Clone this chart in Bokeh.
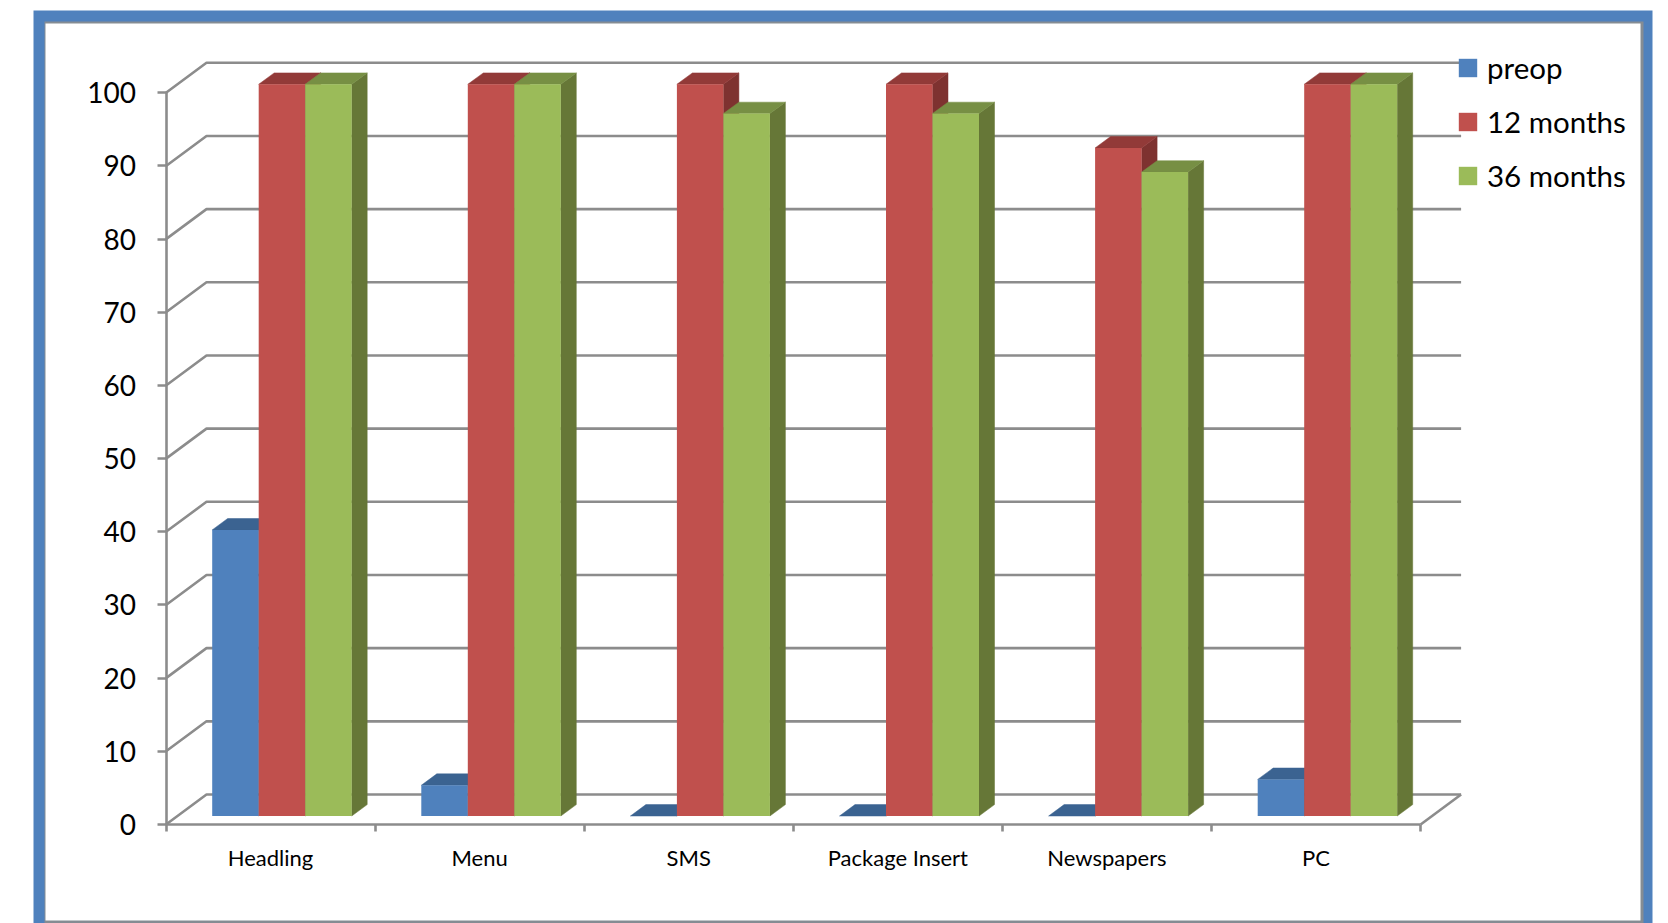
from bokeh.plotting import figure
from bokeh.models import Range1d, FixedTicker, BoxAnnotation, Legend, LegendItem, ColumnDataSource
from bokeh.embed import file_html
from bokeh.resources import INLINE

categories = ["Headling", "Menu", "SMS", "Package Insert", "Newspapers", "PC"]
preop = [39.1, 4.2, 0, 0, 0, 5.0]
months12 = [100, 100, 100, 100, 91.3, 100]
months36 = [100, 100, 96, 96, 88, 100]
series_names = ["preop", "12 months", "36 months"]
y_ticks = [0, 10, 20, 30, 40, 50, 60, 70, 80, 90, 100]

FRONT = ["#4F81BD", "#C0504D", "#9BBB59"]
TOP = ["#3B6391", "#923A38", "#778F44"]
SIDE = ["#345678", "#7E3230", "#667737"]
GRID = "#8C8C8C"

W, H = 1668, 923
X0, Y0 = 165.5, 824.0          # pixel of the axis origin
PX_X, PX_Y = 209.1, 7.317      # pixels per category / per value unit
to_x = lambda px: px / PX_X
to_y = lambda px: px / PX_Y

p = figure(width=W, height=H, output_backend="svg", toolbar_location=None,
           min_border=0, background_fill_color="white", border_fill_color="white",
           x_range=Range1d(-X0 / PX_X, (W - X0) / PX_X),
           y_range=Range1d((Y0 - H) / PX_Y, Y0 / PX_Y))
p.grid.visible = False
p.outline_line_color = None

# picture frame (canvas units)
def band(l, r, t, b, color):
    p.add_layout(BoxAnnotation(left=l, right=r, top=t, bottom=b,
                               left_units="canvas", right_units="canvas",
                               top_units="canvas", bottom_units="canvas",
                               fill_color=color, fill_alpha=1, line_color=None, level="underlay"))
band(33, 1652, 10, 923, "#4F81BD")
band(44, 1643, 21, 923, "#858C93")
band(45, 1640, 23, 920, "#FFFFFF")

# walls and floor
wall_dx, wall_dy = to_x(40.5), to_y(30.0)
n = len(categories)
xs, ys = [], []
for t in y_ticks:
    xs.append([0, wall_dx, n + wall_dx])
    ys.append([t, t + wall_dy, t + wall_dy])
xs.append([n, n + wall_dx])
ys.append([0, wall_dy])
p.multi_line(xs, ys, line_color=GRID, line_width=2.6)

# bars
bar_w = to_x(46.5)
bar_x0 = to_x(46.2)
base = to_y(8.5)
dx, dy = to_x(15.5), to_y(11.4)
legend_items = []
for k, (name, vals) in enumerate(zip(series_names, [preop, months12, months36])):
    lefts = [i + bar_x0 + k * bar_w for i in range(n)]
    rights = [l + bar_w for l in lefts]
    tops = [v + base for v in vals]
    bottoms = [base] * n
    p.patches([[r, r + dx, r + dx, r] for r in rights],
              [[b, b + dy, t + dy, t] for b, t in zip(bottoms, tops)],
              fill_color=SIDE[k], line_color=SIDE[k], line_width=0.5)
    p.patches([[l, l + dx, r + dx, r] for l, r in zip(lefts, rights)],
              [[t, t + dy, t + dy, t] for t in tops],
              fill_color=TOP[k], line_color=TOP[k], line_width=0.5)
    src = ColumnDataSource(dict(left=lefts, right=rights, top=tops, bottom=bottoms))
    r = p.quad(left="left", right="right", top="top", bottom="bottom", source=src,
               fill_color=FRONT[k], line_color=None)
    legend_items.append(LegendItem(label=name, renderers=[r]))

# axes
yax = p.yaxis[0]
yax.fixed_location = 0
yax.bounds = (0, 100)
yax.ticker = FixedTicker(ticks=y_ticks, minor_ticks=[])
yax.axis_line_color = GRID
yax.axis_line_width = 2.6
yax.major_tick_line_color = GRID
yax.major_tick_line_width = 2.6
yax.major_tick_in = 0
yax.major_tick_out = 9
yax.major_label_standoff = 21
yax.major_label_text_font = "Lato"
yax.major_label_text_font_size = "28px"
yax.major_label_text_color = "#000000"

xax = p.xaxis[0]
xax.fixed_location = 0
xax.bounds = (0, n)
centers = [i + 0.5 for i in range(n)]
xax.ticker = FixedTicker(ticks=centers, minor_ticks=list(range(n + 1)))
xax.major_label_overrides = {c: t for c, t in zip(centers, categories)}
xax.axis_line_color = GRID
xax.axis_line_width = 2.6
xax.major_tick_line_color = None
xax.major_tick_in = 0
xax.major_tick_out = 0
xax.minor_tick_line_color = GRID
xax.minor_tick_line_width = 2.6
xax.minor_tick_in = 0
xax.minor_tick_out = 7
xax.major_label_standoff = 12
xax.major_label_text_font = "Lato"
xax.major_label_text_font_size = "22px"
xax.major_label_text_color = "#000000"

legend = Legend(items=legend_items, location=(1456, H - 202),
                orientation="vertical", background_fill_alpha=0, border_line_color=None,
                glyph_width=23, glyph_height=23, label_standoff=8, spacing=0,
                padding=0, margin=0, label_height=54,
                label_text_font="Lato", label_text_font_size="29.5px", label_text_color="#000000")
p.add_layout(legend, "center")

open("out.html", "w").write(file_html(p, INLINE))
